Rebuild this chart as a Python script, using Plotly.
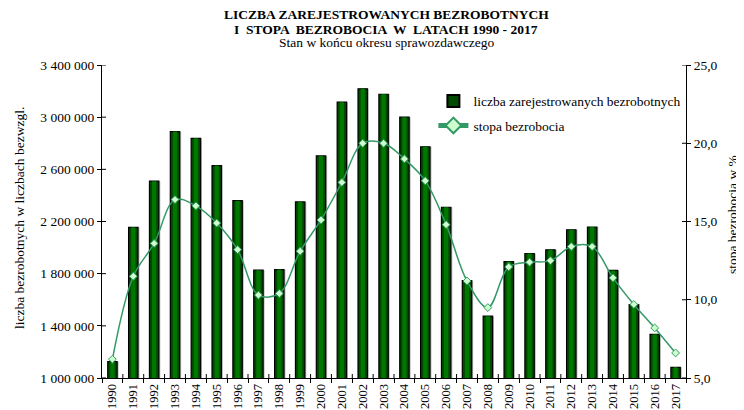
import plotly.graph_objects as go

years = [str(y) for y in range(1990, 2018)]
unemployed = [1126100, 2155600, 2509300, 2889600, 2838000, 2628800, 2359500, 1826400,
              1831400, 2349800, 2702600, 3115100, 3217000, 3175700, 2999600, 2773000,
              2309400, 1746600, 1473800, 1892700, 1954700, 1982700, 2136800, 2157900,
              1825200, 1563300, 1335200, 1081700]
rate = [6.2, 11.5, 13.6, 16.4, 16.0, 14.9, 13.2, 10.3, 10.4, 13.1, 15.1, 17.5, 20.0, 20.0,
        19.0, 17.6, 14.8, 11.2, 9.5, 12.1, 12.4, 12.5, 13.4, 13.4, 11.4, 9.7, 8.2, 6.6]

left_ticks = [1000000, 1400000, 1800000, 2200000, 2600000, 3000000, 3400000]
right_ticks = [5, 10, 15, 20, 25]

title_lines = ["LICZBA ZAREJESTROWANYCH BEZROBOTNYCH",
               "I  STOPA  BEZROBOCIA  W  LATACH 1990 - 2017",
               "Stan w końcu okresu sprawozdawczego"]

FONT = "Liberation Serif"
FS = 13.5

# page body has an 8px margin -> figure coordinates = screen - 8
OFF = 8
W, H = 744, 410
PL, PR, PT, PB = 102 - OFF, 686 - OFF, 65 - OFF, 378 - OFF
PW, PH = PR - PL, PB - PT


def px(xs):
    return (xs - OFF - PL) / PW


def py(ys):
    return (PB - (ys - OFF)) / PH


BW = 0.45
fig = go.Figure()
# soft grey shadow to the right of every bar
fig.add_trace(go.Bar(
    x=years, y=unemployed, showlegend=False, hoverinfo="skip",
    marker=dict(color="#b4b4b4", line=dict(width=0)),
    width=BW, offset=-BW / 2 + 0.07, yaxis="y", legendgroup="a",
))
fig.add_trace(go.Bar(
    x=years, y=unemployed, name="liczba zarejestrowanych bezrobotnych",
    marker=dict(color="#004a00", line=dict(color="#000000", width=1.2)),
    width=BW, offset=-BW / 2, yaxis="y", legendgroup="a",
))
# lighter centre stripe (gradient look)
fig.add_trace(go.Bar(
    x=years, y=unemployed, showlegend=False, hoverinfo="skip",
    marker=dict(color="#007800", line=dict(width=0)),
    width=BW * 0.45, offset=-BW * 0.45 / 2, yaxis="y", legendgroup="a",
))
fig.add_trace(go.Scatter(
    x=years, y=rate, name="stopa bezrobocia", yaxis="y2", legendgroup="b",
    mode="lines+markers",
    line=dict(color="#339966", width=1.5, shape="spline", smoothing=1.0),
    marker=dict(symbol="diamond", size=6, color="#ccffcc",
                line=dict(color="#339966", width=1)),
))

ann = []
for i, (txt, ys) in enumerate(zip(title_lines, [15, 29, 42.5])):
    ann.append(dict(
        text=f"<b>{txt}</b>" if i < 2 else txt,
        x=px(386), xref="paper", y=py(ys), yref="paper",
        xanchor="center", yanchor="middle", showarrow=False,
        font=dict(family=FONT, size=FS, color="black"),
    ))
ann.append(dict(text="liczba bezrobotnych w liczbach bezwzgl.", textangle=-90,
                x=px(19), xref="paper", y=py(218), yref="paper",
                xanchor="center", yanchor="middle", showarrow=False,
                font=dict(family=FONT, size=FS, color="black")))
ann.append(dict(text="stopa bezrobocia w %", textangle=-90,
                x=px(732), xref="paper", y=py(215), yref="paper",
                xanchor="center", yanchor="middle", showarrow=False,
                font=dict(family=FONT, size=FS, color="black")))

# inner halves of the crossing tick marks
shapes = []
for v in left_ticks:
    shapes.append(dict(type="line", xref="paper", yref="y", x0=0, x1=4 / PW,
                       y0=v, y1=v, line=dict(color="black", width=1)))
for v in right_ticks:
    shapes.append(dict(type="line", xref="paper", yref="y2", x0=1, x1=1 - 4 / PW,
                       y0=v, y1=v, line=dict(color="black", width=1)))
for k in range(1, len(years)):
    shapes.append(dict(type="line", xref="x", yref="paper", x0=k - 0.5, x1=k - 0.5,
                       y0=0, y1=4 / PH, line=dict(color="black", width=1)))

fig.update_layout(
    width=W, height=H,
    margin=dict(l=PL, r=W - PR, t=PT, b=H - PB, autoexpand=False),
    paper_bgcolor="white", plot_bgcolor="white",
    separators=", ",
    font=dict(family=FONT, size=FS, color="black"),
    annotations=ann, shapes=shapes,
    barmode="overlay",
    showlegend=True,
    legend=dict(x=(474 - 40.6 - OFF - PL) / PW,
                y=py(85.6), xanchor="left", yanchor="top",
                bgcolor="rgba(0,0,0,0)", font=dict(family=FONT, size=13.5),
                traceorder="grouped", tracegroupgap=4, itemsizing="constant"),
    xaxis=dict(
        type="category", range=[-0.5, len(years) - 0.5], tickangle=-90, showline=True,
        linecolor="black", linewidth=1, ticks="outside", ticklen=4, tickcolor="black",
        tickson="boundaries", tickfont=dict(family=FONT, size=12.5),
        showgrid=False, zeroline=False, automargin=False,
    ),
    yaxis=dict(
        range=[left_ticks[0], left_ticks[-1]], tickvals=left_ticks, tickformat=",d",
        showline=True, linecolor="black", linewidth=1, ticks="outside", ticklen=4,
        tickcolor="black", showgrid=False, zeroline=False, automargin=False,
        tickfont=dict(family=FONT, size=FS),
    ),
    yaxis2=dict(
        range=[right_ticks[0], right_ticks[-1]], tickvals=right_ticks, tickformat=".1f",
        overlaying="y", side="right", showline=True, linecolor="black", linewidth=1,
        ticks="outside", ticklen=4, tickcolor="black", showgrid=False, zeroline=False,
        automargin=False, tickfont=dict(family=FONT, size=FS),
    ),
)

fig.write_html("out.html")
